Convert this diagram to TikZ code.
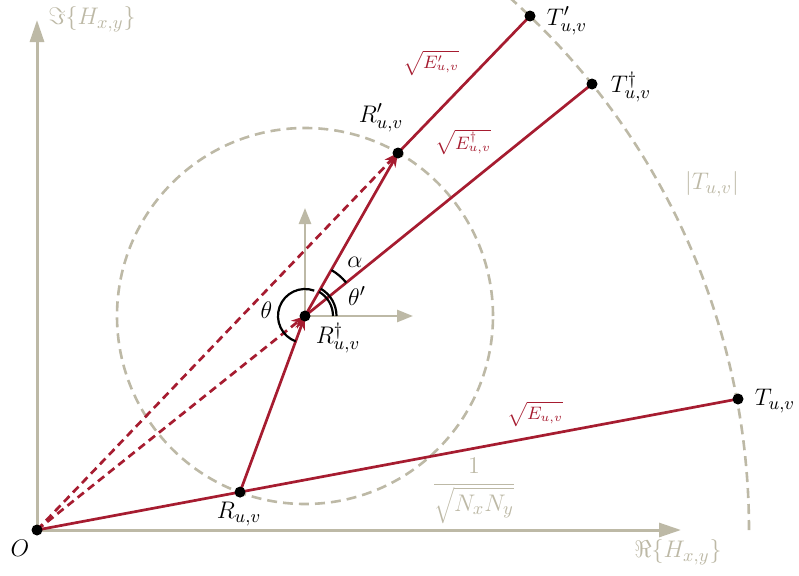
\documentclass[tikz,border=0pt]{standalone}
\usetikzlibrary{arrows.meta}
\definecolor{vred}{RGB}{166,28,48}
\definecolor{vgray}{RGB}{189,185,166}
\begin{document}
\begin{tikzpicture}[x=0.5pt,y=0.5pt,
  font=\fontsize{13}{15}\selectfont,
  axis/.style={vgray,line width=1.5pt,-{Triangle[length=11pt,width=7pt]}},
  subaxis/.style={vgray,line width=1.3pt,-{Triangle[length=8pt,width=6pt]}},
  vec/.style={vred,line width=1.35pt},
  vecarrow/.style={vec,-{Stealth[length=7pt,width=5pt]}},
  dvec/.style={vred,line width=1.35pt,dash pattern=on 4pt off 2.5pt,-{Stealth[length=7pt,width=5pt]}},
  gcirc/.style={vgray,line width=1.3pt,dash pattern=on 5pt off 3pt},
  dot/.style={circle,fill=black,inner sep=0pt,minimum size=5.5pt},
  angarc/.style={black,line width=1.1pt},
  lbl/.style={inner sep=0pt},
  redlbl/.style={vred,inner sep=0pt,font=\fontsize{9}{11}\selectfont},
  graylbl/.style={vgray,inner sep=0pt,font=\fontsize{12.5}{15}\selectfont}]
\useasboundingbox (0,0) rectangle (799,575);

% points
\coordinate (O) at (37,45);
\coordinate (R) at (240,82.9);
\coordinate (Rd) at (305,259);
\coordinate (Rp) at (398,422);
\coordinate (T) at (738,176);
\coordinate (Tp) at (530,559);
\coordinate (Td) at (592,491);
\coordinate (Xend) at (681,45);
\coordinate (Yend) at (37,555);
\coordinate (xend) at (413,259);
\coordinate (yend) at (305,367);

% gray geometry
\draw[gcirc] (Rd) circle[radius=188];
\draw[gcirc] ([shift={(0:712)}]O) arc[start angle=0,end angle=48.6,radius=712];
\draw[axis] (O) -- (Xend);
\draw[axis] (O) -- (Yend);
\draw[subaxis] (Rd) -- (xend);
\draw[subaxis] (Rd) -- (yend);

% red vectors
\draw[dvec] (O) -- (Rp);
\draw[dvec] (O) -- (Rd);
\draw[vec] (O) -- (T);
\draw[vecarrow] (R) -- (Rd);
\draw[vecarrow] (Rd) -- (Rp);
\draw[vec] (Rp) -- (Tp);
\draw[vec] (Rd) -- (Td);

% angle arcs
\draw[angarc] ([shift={(70:27)}]Rd) arc[start angle=70,end angle=250,radius=27];
\draw[angarc] ([shift={(0:28)}]Rd) arc[start angle=0,end angle=60,radius=28];
\draw[angarc] ([shift={(0:31.5)}]Rd) arc[start angle=0,end angle=60,radius=31.5];
\draw[angarc] ([shift={(39:53)}]Rd) arc[start angle=39,end angle=60,radius=53];

% dots
\foreach \p in {O,R,Rd,Rp,T,Tp,Td} \node[dot] (d\p) at (\p) {};

% labels
\node[graylbl] (lIm) at (92,556) {$\Im\{H_{x,y}\}$};
\node[graylbl] (lRe) at (678,23) {$\Re\{H_{x,y}\}$};
\node[graylbl] (lT) at (712,391) {$|T_{u,v}|$};
\node[graylbl] (lN) at (474,84) {$\displaystyle\frac{1}{\sqrt{N_xN_y}}$};
\node[lbl] (lO) at (20,27) {$O$};
\node[lbl] (lR) at (239,61) {$R_{u,v}$};
\node[lbl] (lRd) at (338,237) {$R^\dagger_{u,v}$};
\node[lbl] (lRp) at (381,457) {$R'_{u,v}$};
\node[lbl] (lTp) at (567,554) {$T'_{u,v}$};
\node[lbl] (lTd) at (631,488) {$T^\dagger_{u,v}$};
\node[lbl] (lTT) at (775,174) {$T_{u,v}$};
\node[redlbl] (lEp) at (431,512) {$\sqrt{E'_{u,v}}$};
\node[redlbl] (lEd) at (463,433) {$\sqrt{E^\dagger_{u,v}}$};
\node[redlbl] (lE) at (535,161) {$\sqrt{E_{u,v}}$};
\node[lbl] (lth) at (266.5,264.5) {$\theta$};
\node[lbl] (lthp) at (357,279) {$\theta'$};
\node[lbl] (lal) at (355,313) {$\alpha$};
\end{tikzpicture}
\end{document}
